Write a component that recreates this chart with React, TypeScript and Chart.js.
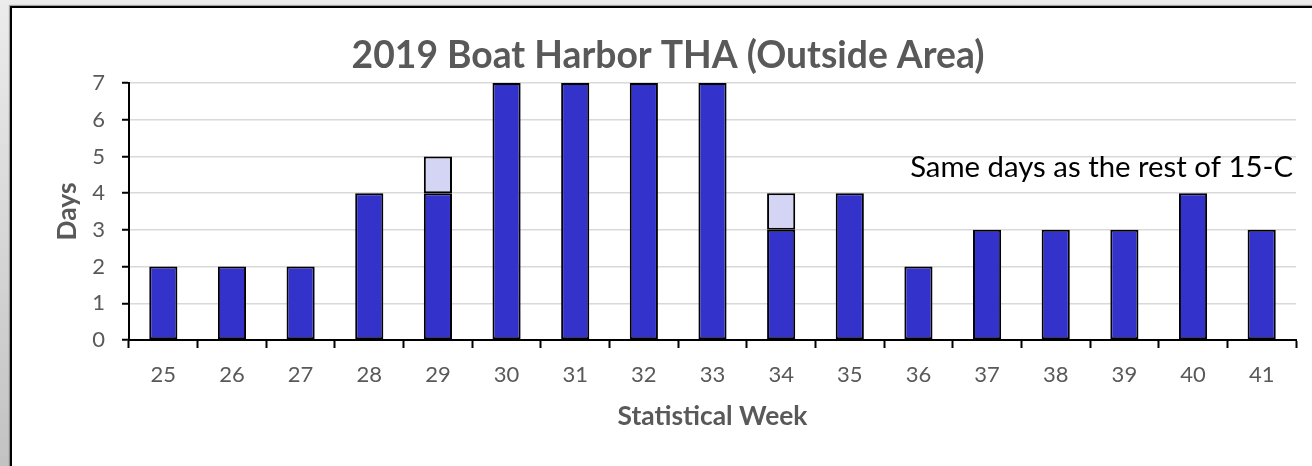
import { useEffect, useRef } from 'react';
import { Chart, registerables } from 'chart.js';

Chart.register(...registerables);

const weeks = ['25', '26', '27', '28', '29', '30', '31', '32', '33', '34', '35', '36', '37', '38', '39', '40', '41'];
const baseDays = [2, 2, 2, 4, 4, 7, 7, 7, 7, 3, 4, 2, 3, 3, 3, 4, 3];
const extraDays = [null, null, null, null, 1, null, null, null, null, 1, null, null, null, null, null, null, null];
const yMin = 0;
const yMax = 7;
const titleText = '2019 Boat Harbor THA (Outside Area)';
const annotationText = 'Same days as the rest of 15-C';
const yTitle = 'Days';
const xTitle = 'Statistical Week';

const FONT = 'Lato, "Open Sans", sans-serif';

function fitText(ctx: CanvasRenderingContext2D, text: string, weight: string, targetWidth: number) {
  ctx.font = `${weight} 40px ${FONT}`;
  const w = ctx.measureText(text).width;
  const size = (40 * targetWidth) / w;
  ctx.font = `${weight} ${size}px ${FONT}`;
}

const textPlugin = {
  id: 'texts',
  afterDraw(chart: any) {
    const ctx: CanvasRenderingContext2D = chart.ctx;
    const area = chart.chartArea;
    ctx.save();
    // title
    ctx.fillStyle = '#595959';
    ctx.textAlign = 'center';
    ctx.textBaseline = 'middle';
    fitText(ctx, titleText, 'bold', 633);
    ctx.fillText(titleText, 668, 56);
    // x title
    fitText(ctx, xTitle, 'bold', 190);
    ctx.fillText(xTitle, (area.left + area.right) / 2, 416);
    // y title
    ctx.save();
    ctx.translate(67, (area.top + area.bottom) / 2);
    ctx.rotate(-Math.PI / 2);
    fitText(ctx, yTitle, 'bold', 58);
    ctx.fillText(yTitle, 0, 0);
    ctx.restore();
    // annotation
    ctx.fillStyle = '#000000';
    ctx.textAlign = 'right';
    fitText(ctx, annotationText, 'normal', 383);
    ctx.fillText(annotationText, 1293, 168);
    ctx.restore();
  },
};

export default function App() {
  const ref = useRef<HTMLCanvasElement | null>(null);
  useEffect(() => {
    if (!ref.current) return;
    const chart = new Chart(ref.current, {
      type: 'bar',
      data: {
        labels: weeks,
        datasets: [
          {
            data: baseDays,
            backgroundColor: '#3333CC',
            borderColor: '#000000',
            borderWidth: 2,
            borderSkipped: false,
            barPercentage: 0.41,
            categoryPercentage: 1,
          },
          {
            data: extraDays as any,
            backgroundColor: '#D4D4F4',
            borderColor: '#000000',
            borderWidth: 2,
            borderSkipped: false,
            barPercentage: 0.41,
            categoryPercentage: 1,
          },
        ],
      },
      options: {
        animation: false,
        responsive: false,
        maintainAspectRatio: false,
        layout: { padding: { left: 0, right: 16, top: 83, bottom: 66 } },
        plugins: {
          legend: { display: false },
          title: { display: false },
          tooltip: { enabled: false },
        },
        scales: {
          x: {
            stacked: true,
            grid: {
              drawOnChartArea: false,
              drawTicks: true,
              tickLength: 8,
              tickColor: '#000000',
              tickWidth: 2,
              offset: true,
            },
            border: { color: '#000000', width: 2 },
            ticks: { color: '#595959', font: { family: FONT, size: 22 }, padding: 14 },
            afterFit: (s: any) => {
              s.height = 60;
            },
          },
          y: {
            stacked: true,
            min: yMin,
            max: yMax,
            ticks: { stepSize: 1, color: '#595959', font: { family: FONT, size: 22 }, padding: 17 },
            grid: { color: '#d9d9d9', lineWidth: 1.5, tickColor: '#000000', tickLength: 7, tickWidth: 2 },
            border: { color: '#000000', width: 2 },
            afterFit: (s: any) => {
              s.width = 129;
            },
          },
        },
      },
      plugins: [textPlugin],
    });
    return () => chart.destroy();
  }, []);

  return (
    <div
      style={{
        position: 'fixed',
        left: 0,
        top: 0,
        width: 1312,
        height: 466,
        overflow: 'hidden',
        background: 'linear-gradient(to bottom, #ececec, #c2c2c2)',
      }}
    >
      <div
        style={{
          position: 'absolute',
          left: 10,
          top: 6,
          width: 1330,
          height: 480,
          borderLeft: '2px solid #000',
          borderTop: '2px solid #000',
          background: '#ffffff',
          boxShadow: '-1px -1px 1px rgba(0,0,0,0.3)',
        }}
      />
      <canvas
        ref={ref}
        width={1312}
        height={466}
        style={{ position: 'absolute', left: 0, top: 0, width: 1312, height: 466 }}
      />
    </div>
  );
}
